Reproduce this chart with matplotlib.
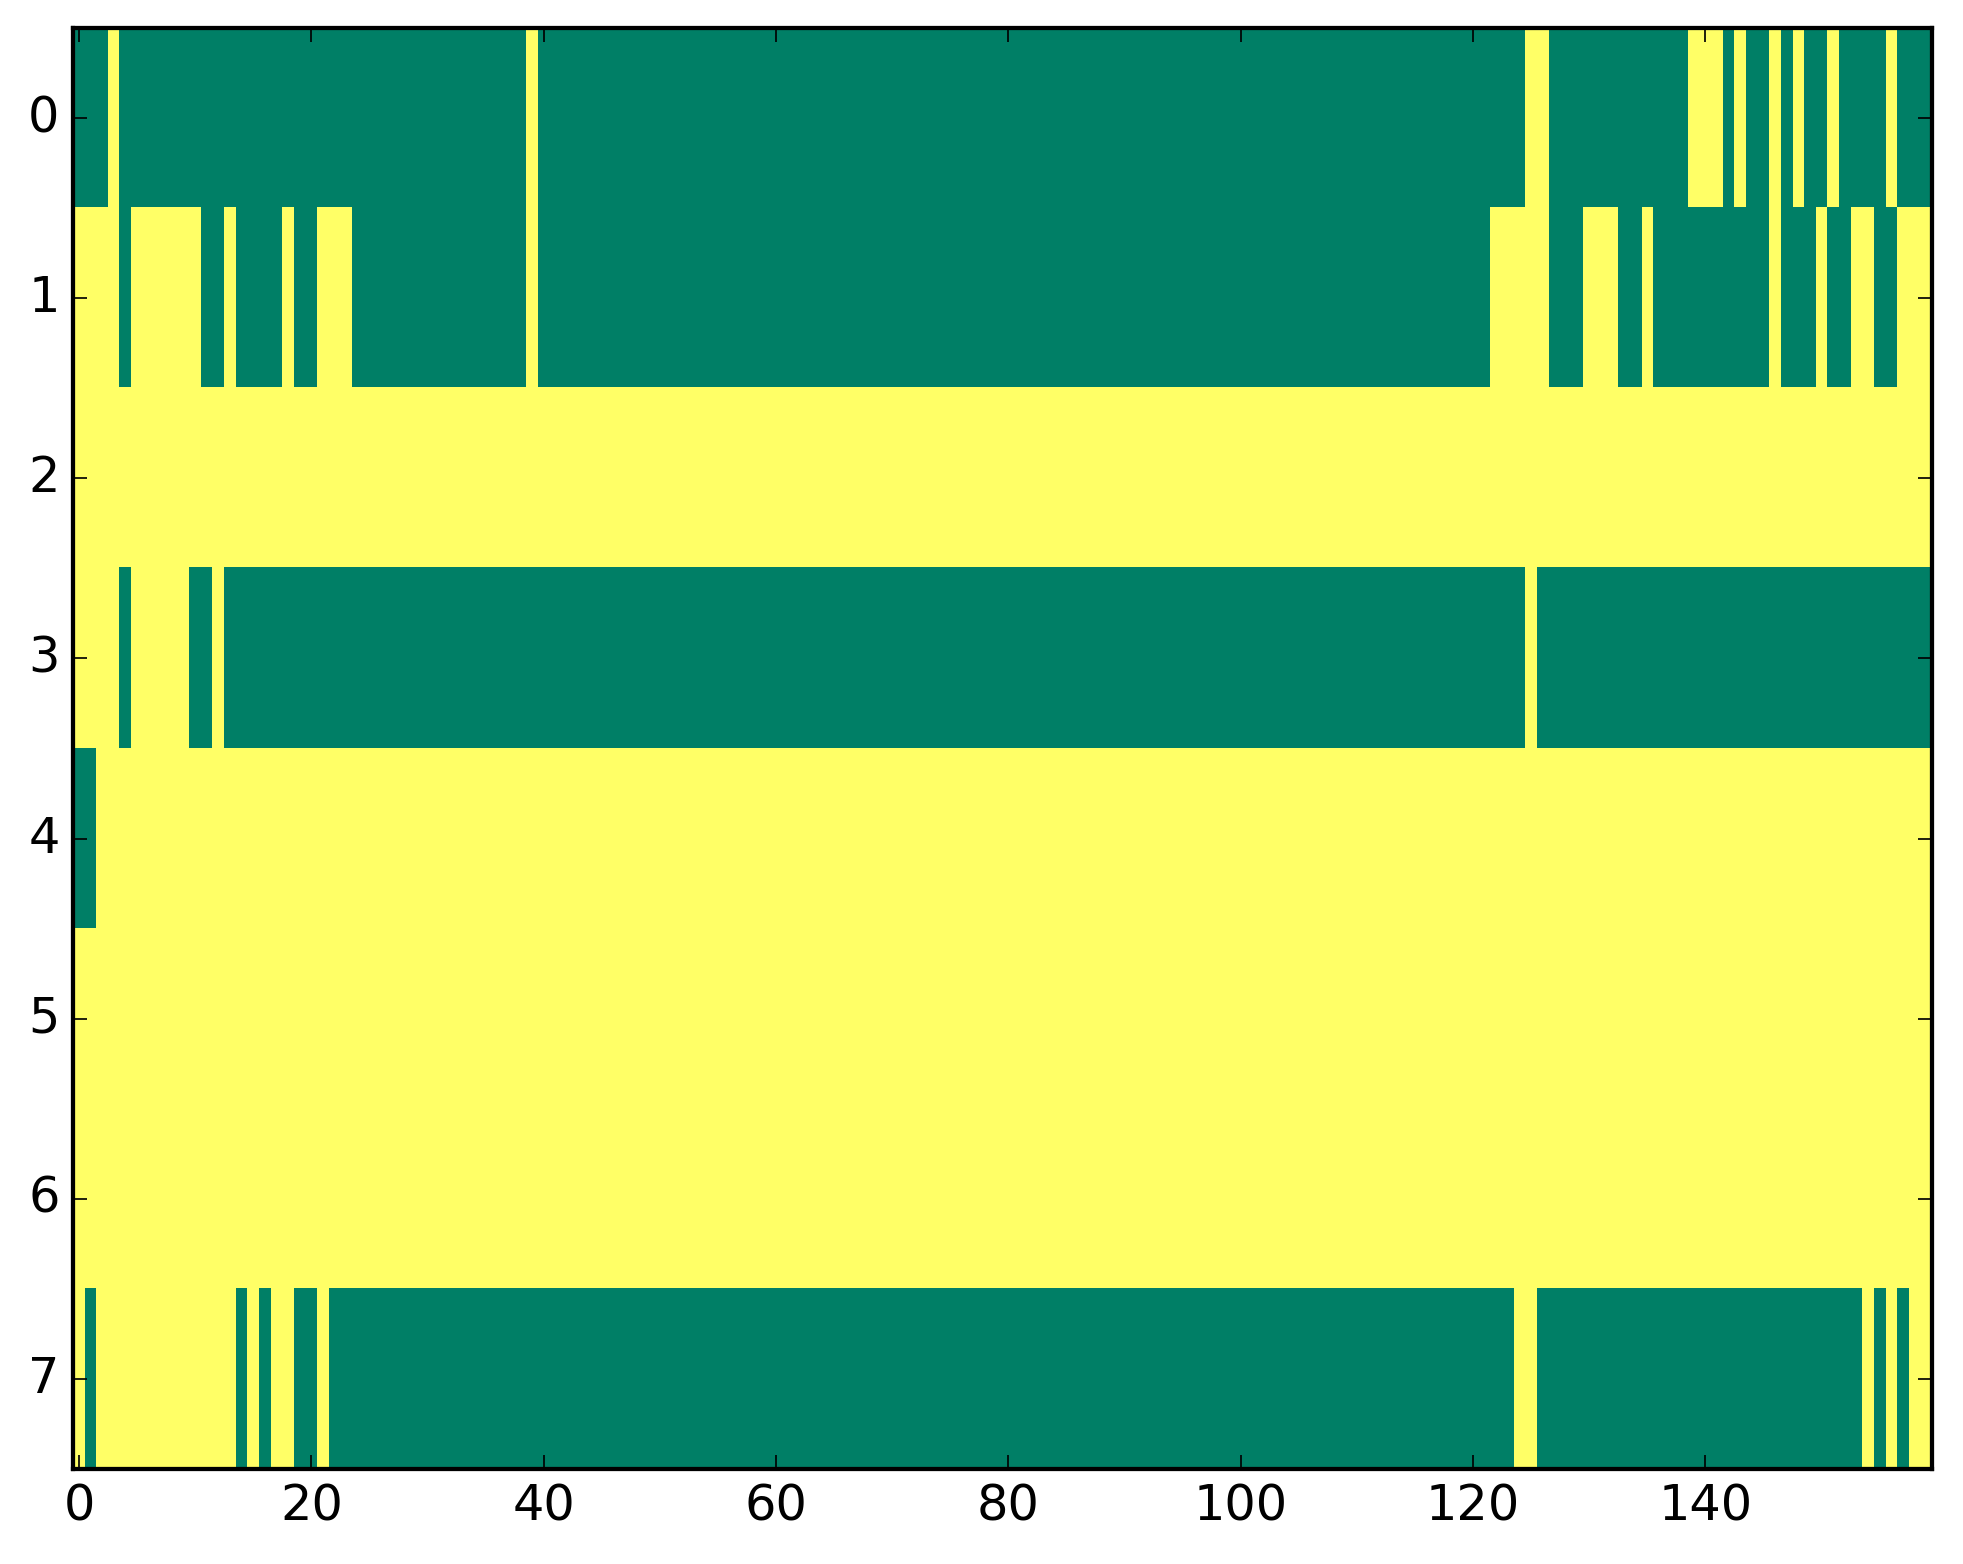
import numpy as np
import matplotlib
matplotlib.use("Agg")
import matplotlib.pyplot as plt

# each row as runs of (value, length); 0 = green, 1 = yellow
row0 = [(0, 3), (1, 1), (0, 35), (1, 1), (0, 85), (1, 2), (0, 12), (1, 3), (0, 1), (1, 1),
        (0, 2), (1, 1), (0, 1), (1, 1), (0, 2), (1, 1), (0, 4), (1, 1), (0, 3)]
row1 = [(1, 4), (0, 1), (1, 6), (0, 2), (1, 1), (0, 4), (1, 1), (0, 2), (1, 3), (0, 15),
        (1, 1), (0, 82), (1, 5), (0, 3), (1, 3), (0, 2), (1, 1), (0, 10), (1, 1), (0, 3),
        (1, 1), (0, 2), (1, 2), (0, 2), (1, 3)]
row2 = [(1, 160)]
row3 = [(1, 4), (0, 1), (1, 5), (0, 2), (1, 1), (0, 112), (1, 1), (0, 34)]
row4 = [(0, 2), (1, 158)]
row5 = [(1, 160)]
row6 = [(1, 160)]
row7 = [(1, 1), (0, 1), (1, 12), (0, 1), (1, 1), (0, 1), (1, 2), (0, 2), (1, 1), (0, 102),
        (1, 2), (0, 28), (1, 1), (0, 1), (1, 1), (0, 1), (1, 2)]

rows = [row0, row1, row2, row3, row4, row5, row6, row7]


def expand(runs):
    vals = [v for v, n in runs]
    counts = [n for v, n in runs]
    return np.repeat(vals, counts)


mat = np.array([expand(r) for r in rows])

plt.style.use("classic")
plt.rcParams["font.size"] = 14.5
plt.rcParams["axes.linewidth"] = 1.25

fig = plt.figure(figsize=(1963 / 245, 1564 / 245), dpi=245, facecolor="white")
ax = fig.add_axes([0.0373, 0.0607, 0.9469, 0.9214])
ax.imshow(mat, cmap="summer", interpolation="nearest", aspect="auto")

fig.savefig("out.png", dpi=245, facecolor="white")
